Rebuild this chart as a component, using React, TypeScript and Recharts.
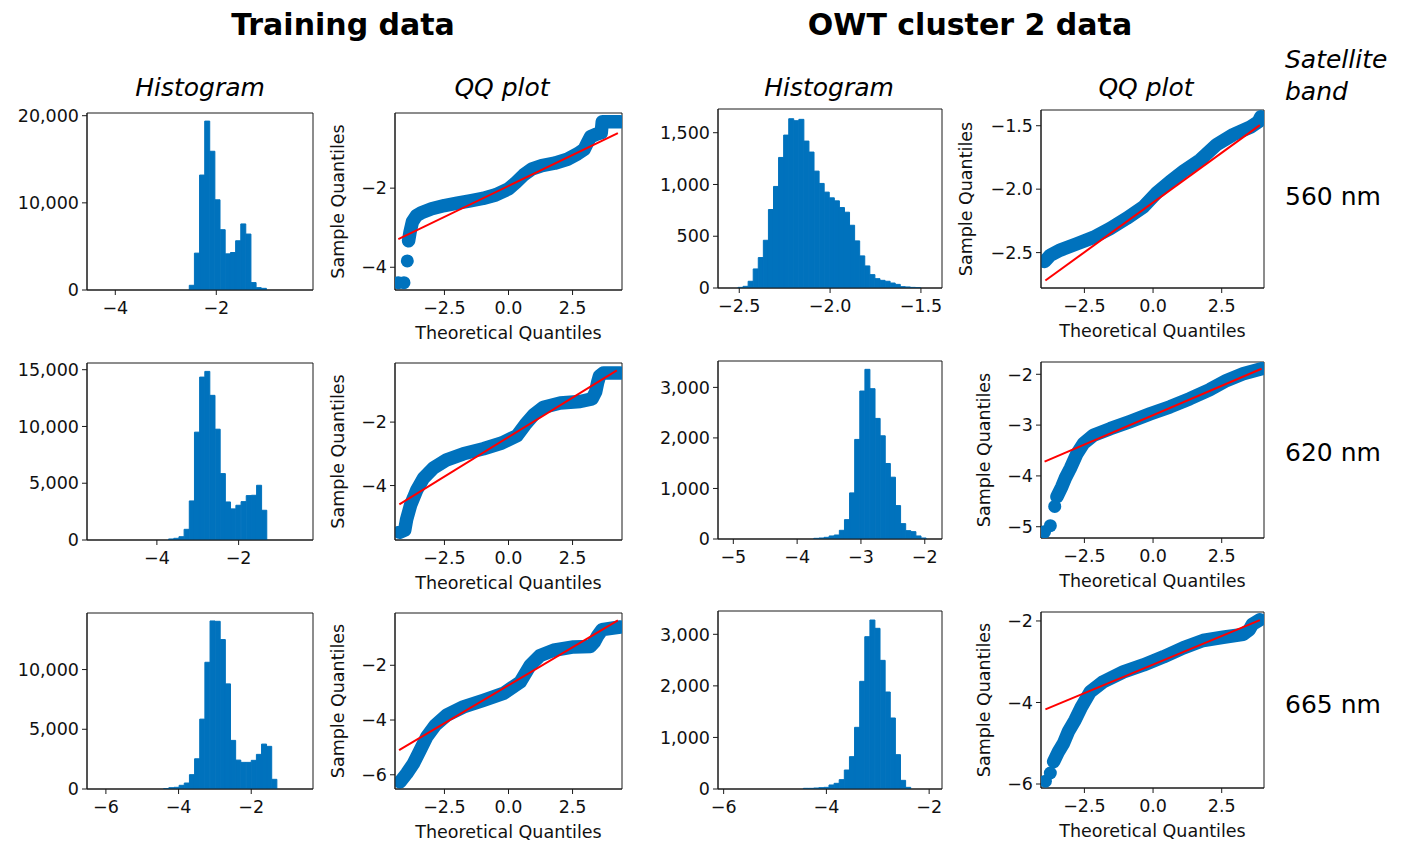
import React from "react"
import { BarChart, Bar, ComposedChart, Line, Scatter, XAxis, YAxis, ReferenceArea } from "recharts"

// ---------- data ----------

// histogram bins: first bin left edge, bin width, counts
const trainBins560 = { start: -2.535, width: 0.102 }
const trainCounts560 = [540, 4230, 13190, 19380, 15920, 10350, 6920, 4150, 4300, 5650, 7580, 6420, 850, 270, 190]
const trainBins620 = { start: -3.714, width: 0.1267 }
const trainCounts620 = [90, 150, 290, 940, 3440, 9500, 14350, 14850, 12740, 9760, 5850, 3350, 2740, 3060, 3380, 3910, 3940, 4820, 2620]
const trainBins665 = { start: -4.41, width: 0.1418 }
const trainCounts665 = [30, 110, 140, 310, 500, 1200, 2530, 5850, 10610, 14070, 14040, 12510, 8800, 4070, 2420, 2230, 2230, 2400, 2900, 3760, 3570, 810]

const owtBins560 = { start: -2.507, width: 0.02793 }
const owtCounts560 = [6, 16, 65, 184, 294, 461, 758, 981, 1261, 1477, 1635, 1616, 1629, 1419, 1313, 1129, 1010, 926, 871, 842, 777, 732, 606, 455, 310, 213, 129, 90, 74, 65, 48, 35, 13, 10, 6, 3]
const owtBins620 = { start: -3.739, width: 0.0801 }
const owtCounts620 = [13, 20, 33, 60, 79, 172, 383, 912, 1970, 2928, 3357, 2974, 2386, 2042, 1494, 1223, 661, 304, 165, 145, 60, 20]
const owtBins665 = { start: -4.448, width: 0.0996 }
const owtCounts665 = [13, 13, 19, 26, 32, 78, 110, 181, 368, 627, 1196, 2088, 2954, 3277, 3116, 2495, 1881, 1377, 666, 168, 32]

// QQ plots: [theoretical, sample]
const trainQQ560: [number, number][] = [
  [-3.9, -3.33], [-3.84, -3.1], [-3.75, -2.85], [-3.6, -2.7], [-3.4, -2.62], [-3.0, -2.52], [-2.5, -2.44],
  [-2.0, -2.38], [-1.5, -2.32], [-1.0, -2.26], [-0.5, -2.17], [0.0, -2.02], [0.3, -1.85], [0.6, -1.66],
  [0.9, -1.52], [1.3, -1.43], [1.8, -1.37], [2.3, -1.27], [2.7, -1.13], [2.95, -1.02], [3.08, -0.85],
  [3.2, -0.7], [3.45, -0.63], [3.62, -0.6], [3.66, -0.32], [4.36, -0.32],
]
const trainQQ560Tail: [number, number][] = [[-4.3, -4.39], [-4.08, -4.39], [-3.95, -3.84]]
const trainFit560: [number, number][] = [[-4.3, -3.29], [4.27, -0.61]]

const trainQQ620: [number, number][] = [
  [-4.25, -5.47], [-4.05, -5.4], [-3.98, -5.08], [-3.82, -4.61], [-3.58, -4.14], [-3.32, -3.77], [-2.93, -3.45],
  [-2.41, -3.19], [-1.76, -3.0], [-0.98, -2.84], [-0.26, -2.66], [0.33, -2.43], [0.65, -2.08], [0.98, -1.77],
  [1.37, -1.53], [2.02, -1.4], [2.8, -1.35], [3.26, -1.27], [3.4, -1.05], [3.48, -0.75], [3.55, -0.55],
  [3.71, -0.45], [4.36, -0.45],
]
const trainFit620: [number, number][] = [[-4.26, -4.59], [4.23, -0.37]]

const trainQQ665: [number, number][] = [
  [-4.23, -6.26], [-3.97, -5.95], [-3.71, -5.59], [-3.45, -5.1], [-3.19, -4.61], [-2.86, -4.19], [-2.41, -3.82],
  [-1.76, -3.52], [-0.98, -3.28], [-0.2, -3.03], [0.46, -2.61], [0.85, -2.0], [1.24, -1.64], [1.76, -1.45],
  [2.54, -1.33], [3.2, -1.31], [3.35, -1.15], [3.48, -0.92], [3.65, -0.7], [4.36, -0.6],
]
const trainFit665: [number, number][] = [[-4.27, -5.1], [4.27, -0.36]]

const owtQQ560: [number, number][] = [
  [-3.95, -2.57], [-3.74, -2.52], [-3.38, -2.48], [-2.77, -2.43], [-2.17, -2.38], [-1.56, -2.31], [-0.96, -2.23],
  [-0.35, -2.14], [0.13, -2.03], [0.62, -1.94], [1.1, -1.86], [1.71, -1.77], [2.31, -1.65], [2.92, -1.57],
  [3.55, -1.51], [3.83, -1.47], [3.92, -1.43],
]
const owtFit560: [number, number][] = [[-3.92, -2.72], [3.89, -1.495]]

const owtQQ620: [number, number][] = [
  [-3.5, -4.41], [-3.32, -4.21], [-3.2, -4.05], [-3.01, -3.85], [-2.77, -3.56], [-2.53, -3.36], [-2.17, -3.2],
  [-1.56, -3.07], [-0.84, -2.93], [-0.11, -2.78], [0.62, -2.64], [1.34, -2.48], [2.07, -2.3], [2.68, -2.12],
  [3.28, -1.99], [3.95, -1.89],
]
const owtQQ620Tail: [number, number][] = [[-3.95, -5.1], [-3.74, -4.98], [-3.58, -4.6]]
const owtFit620: [number, number][] = [[-3.95, -3.72], [3.95, -1.89]]

const owtQQ665: [number, number][] = [
  [-3.62, -5.45], [-3.44, -5.2], [-3.26, -5.0], [-3.08, -4.71], [-2.84, -4.43], [-2.6, -4.1], [-2.29, -3.74],
  [-1.81, -3.49], [-1.08, -3.25], [-0.35, -3.08], [0.38, -2.88], [1.1, -2.66], [1.82, -2.48], [2.55, -2.4],
  [3.28, -2.33], [3.5, -2.22], [3.62, -2.08], [3.89, -1.97],
]
const owtQQ665Tail: [number, number][] = [[-3.92, -5.93], [-3.74, -5.73]]
const owtFit665: [number, number][] = [[-3.92, -4.17], [3.89, -1.98]]

// tick values
const qqXTicks = [-2.5, 0, 2.5]

// ---------- styling ----------
const BLUE = "#0072BD"
const RED = "#FF0000"
const INK = "#111111"
const FRAME = "#1a1a1a"
const TICK_FONT = 17.5
const Y_W = 90
const PAD = 8

type Rect = { x: number; y: number; w: number; h: number }

const minus = (dec: number) => (v: number) => (v < 0 ? "\u2212" : "") + Math.abs(v).toFixed(dec)
const thousands = (v: number) => v.toLocaleString("en-US")
const toPts = (arr: [number, number][]) => arr.map(([x, y]) => ({ x, y }))

const tickStyle = { fill: INK, fontSize: TICK_FONT }
const axisLine = { stroke: FRAME, strokeWidth: 1 }
const tickLine = { stroke: FRAME, strokeWidth: 1 }

function HistPanel({ rect, bins, counts, xDomain, yMax, xTicks, yTicks, xDec = 0 }: {
  rect: Rect; bins: { start: number; width: number }; counts: number[]; xDomain: [number, number]
  yMax: number; xTicks: number[]; yTicks: number[]; xDec?: number
}) {
  const data = counts.map((c, i) => ({ x: bins.start + (i + 0.5) * bins.width, count: c }))
  const xh = 34
  return (
    <div style={{ position: "absolute", left: rect.x - Y_W, top: rect.y - PAD }}>
      <BarChart
        width={rect.w + Y_W + PAD}
        height={rect.h + PAD + xh}
        data={data}
        margin={{ top: PAD, right: PAD, bottom: 0, left: 0 }}
        barCategoryGap={0}
        barGap={0}
      >
        <XAxis type="number" dataKey="x" domain={xDomain} ticks={xTicks} interval={0} allowDataOverflow
          tickFormatter={minus(xDec)} height={xh} tickSize={5} tickMargin={7}
          tick={tickStyle} axisLine={axisLine} tickLine={tickLine} />
        <YAxis type="number" domain={[0, yMax]} ticks={yTicks} interval={0} allowDataOverflow
          tickFormatter={thousands} width={Y_W} tickSize={5} tickMargin={3}
          tick={tickStyle} axisLine={axisLine} tickLine={tickLine} />
        <Bar dataKey="count" fill={BLUE} stroke={BLUE} strokeWidth={1} isAnimationActive={false} />
        <ReferenceArea x1={xDomain[0]} x2={xDomain[1]} y1={0} y2={yMax} ifOverflow="visible"
          fill="none" stroke={FRAME} strokeWidth={1} />
      </BarChart>
    </div>
  )
}

function QQPanel({ rect, band, tail, fit, xDomain, yDomain, yTicks, yDec, labelDist }: {
  rect: Rect; band: [number, number][]; tail?: [number, number][]; fit: [number, number][]
  xDomain: [number, number]; yDomain: [number, number]; yTicks: number[]; yDec: number; labelDist: number
}) {
  const xh = 54
  const yLabel = (props: any) => {
    const vb = props.viewBox || { x: 0, y: PAD, width: Y_W, height: rect.h }
    const cx = vb.x + vb.width - labelDist
    const cy = vb.y + vb.height / 2
    return (
      <text x={cx} y={cy} dy="0.355em" textAnchor="middle" fill={INK} fontSize={TICK_FONT}
        transform={`rotate(-90 ${cx} ${cy})`}>
        Sample Quantiles
      </text>
    )
  }
  return (
    <div style={{ position: "absolute", left: rect.x - Y_W, top: rect.y - PAD }}>
      <ComposedChart
        width={rect.w + Y_W + PAD}
        height={rect.h + PAD + xh}
        margin={{ top: PAD, right: PAD, bottom: 0, left: 0 }}
      >
        <XAxis type="number" dataKey="x" domain={xDomain} ticks={qqXTicks} interval={0} allowDataOverflow
          tickFormatter={minus(1)} height={xh} tickSize={5} tickMargin={7}
          tick={tickStyle} axisLine={axisLine} tickLine={tickLine}
          label={{ value: "Theoretical Quantiles", position: "insideBottom", offset: 5, fill: INK, fontSize: TICK_FONT }} />
        <YAxis type="number" dataKey="y" domain={yDomain} ticks={yTicks} interval={0} allowDataOverflow
          tickFormatter={minus(yDec)} width={Y_W} tickSize={5} tickMargin={3}
          tick={tickStyle} axisLine={axisLine} tickLine={tickLine}
          label={{ content: yLabel }} />
        <Line data={toPts(band)} dataKey="y" type="linear" stroke={BLUE} strokeWidth={13.5}
          strokeLinecap="round" strokeLinejoin="round" dot={false} activeDot={false} isAnimationActive={false} />
        {tail && (
          <Scatter data={toPts(tail)} dataKey="y" isAnimationActive={false}
            shape={(p: any) => <circle cx={p.cx} cy={p.cy} r={6.5} fill={BLUE} />} />
        )}
        <Line data={toPts(fit)} dataKey="y" type="linear" stroke={RED} strokeWidth={2}
          dot={false} activeDot={false} isAnimationActive={false} />
        <ReferenceArea x1={xDomain[0]} x2={xDomain[1]} y1={yDomain[0]} y2={yDomain[1]} ifOverflow="visible"
          fill="none" stroke={FRAME} strokeWidth={1} />
      </ComposedChart>
    </div>
  )
}

export default function App() {
  return (
    <div style={{
      position: "absolute", left: 0, top: 0, width: 1402, height: 843, background: "#fff",
      fontFamily: '"DejaVu Sans", sans-serif', overflow: "hidden",
    }}>
      <svg width={1402} height={843} style={{ position: "absolute", left: 0, top: 0 }}>
        <g fill="#000">
          <text x={343} y={35} textAnchor="middle" fontSize={30} fontWeight="bold">Training data</text>
          <text x={970} y={35} textAnchor="middle" fontSize={30} fontWeight="bold">OWT cluster 2 data</text>
          <text x={200} y={96} textAnchor="middle" fontSize={25} fontStyle="italic">Histogram</text>
          <text x={502} y={96} textAnchor="middle" fontSize={25} fontStyle="italic">QQ plot</text>
          <text x={829} y={96} textAnchor="middle" fontSize={25} fontStyle="italic">Histogram</text>
          <text x={1146} y={96} textAnchor="middle" fontSize={25} fontStyle="italic">QQ plot</text>
          <text x={1285} y={68} fontSize={25} fontStyle="italic">Satellite</text>
          <text x={1285} y={100} fontSize={25} fontStyle="italic">band</text>
          <text x={1285} y={205} fontSize={25}>560 nm</text>
          <text x={1285} y={461} fontSize={25}>620 nm</text>
          <text x={1285} y={713} fontSize={25}>665 nm</text>
        </g>
      </svg>

      <HistPanel rect={{ x: 87, y: 113, w: 226, h: 177 }} bins={trainBins560} counts={trainCounts560}
        xDomain={[-4.56, -0.085]} yMax={20310} xTicks={[-4, -2]} yTicks={[0, 10000, 20000]} />
      <HistPanel rect={{ x: 87, y: 363, w: 226, h: 177 }} bins={trainBins620} counts={trainCounts620}
        xDomain={[-5.71, -0.18]} yMax={15590} xTicks={[-4, -2]} yTicks={[0, 5000, 10000, 15000]} />
      <HistPanel rect={{ x: 87, y: 613, w: 226, h: 176 }} bins={trainBins665} counts={trainCounts665}
        xDomain={[-6.52, -0.3]} yMax={14735} xTicks={[-6, -4, -2]} yTicks={[0, 5000, 10000]} />

      <HistPanel rect={{ x: 718, y: 109, w: 224, h: 179 }} bins={owtBins560} counts={owtCounts560}
        xDomain={[-2.617, -1.384]} yMax={1729} xTicks={[-2.5, -2.0, -1.5]} yTicks={[0, 500, 1000, 1500]} xDec={1} />
      <HistPanel rect={{ x: 718, y: 361, w: 224, h: 178 }} bins={owtBins620} counts={owtCounts620}
        xDomain={[-5.24, -1.73]} yMax={3522} xTicks={[-5, -4, -3, -2]} yTicks={[0, 1000, 2000, 3000]} />
      <HistPanel rect={{ x: 718, y: 611, w: 224, h: 178 }} bins={owtBins665} counts={owtCounts665}
        xDomain={[-6.11, -1.75]} yMax={3452} xTicks={[-6, -4, -2]} yTicks={[0, 1000, 2000, 3000]} />

      <QQPanel rect={{ x: 395, y: 113, w: 227, h: 177 }} band={trainQQ560} tail={trainQQ560Tail} fit={trainFit560}
        xDomain={[-4.43, 4.43]} yDomain={[-4.575, -0.1]} yTicks={[-4, -2]} yDec={0} labelDist={57} />
      <QQPanel rect={{ x: 395, y: 363, w: 227, h: 177 }} band={trainQQ620} fit={trainFit620}
        xDomain={[-4.43, 4.43]} yDomain={[-5.716, -0.137]} yTicks={[-4, -2]} yDec={0} labelDist={57} />
      <QQPanel rect={{ x: 395, y: 613, w: 227, h: 176 }} band={trainQQ665} fit={trainFit665}
        xDomain={[-4.43, 4.43]} yDomain={[-6.52, -0.09]} yTicks={[-6, -4, -2]} yDec={0} labelDist={57} />

      <QQPanel rect={{ x: 1041, y: 110, w: 223, h: 178 }} band={owtQQ560} fit={owtFit560}
        xDomain={[-4.08, 4.04]} yDomain={[-2.779, -1.376]} yTicks={[-2.5, -2.0, -1.5]} yDec={1} labelDist={75} />
      <QQPanel rect={{ x: 1041, y: 362, w: 223, h: 176 }} band={owtQQ620} tail={owtQQ620Tail} fit={owtFit620}
        xDomain={[-4.08, 4.04]} yDomain={[-5.222, -1.758]} yTicks={[-5, -4, -3, -2]} yDec={0} labelDist={57} />
      <QQPanel rect={{ x: 1041, y: 612, w: 223, h: 176 }} band={owtQQ665} tail={owtQQ665Tail} fit={owtFit665}
        xDomain={[-4.08, 4.04]} yDomain={[-6.098, -1.78]} yTicks={[-6, -4, -2]} yDec={0} labelDist={57} />
    </div>
  )
}
